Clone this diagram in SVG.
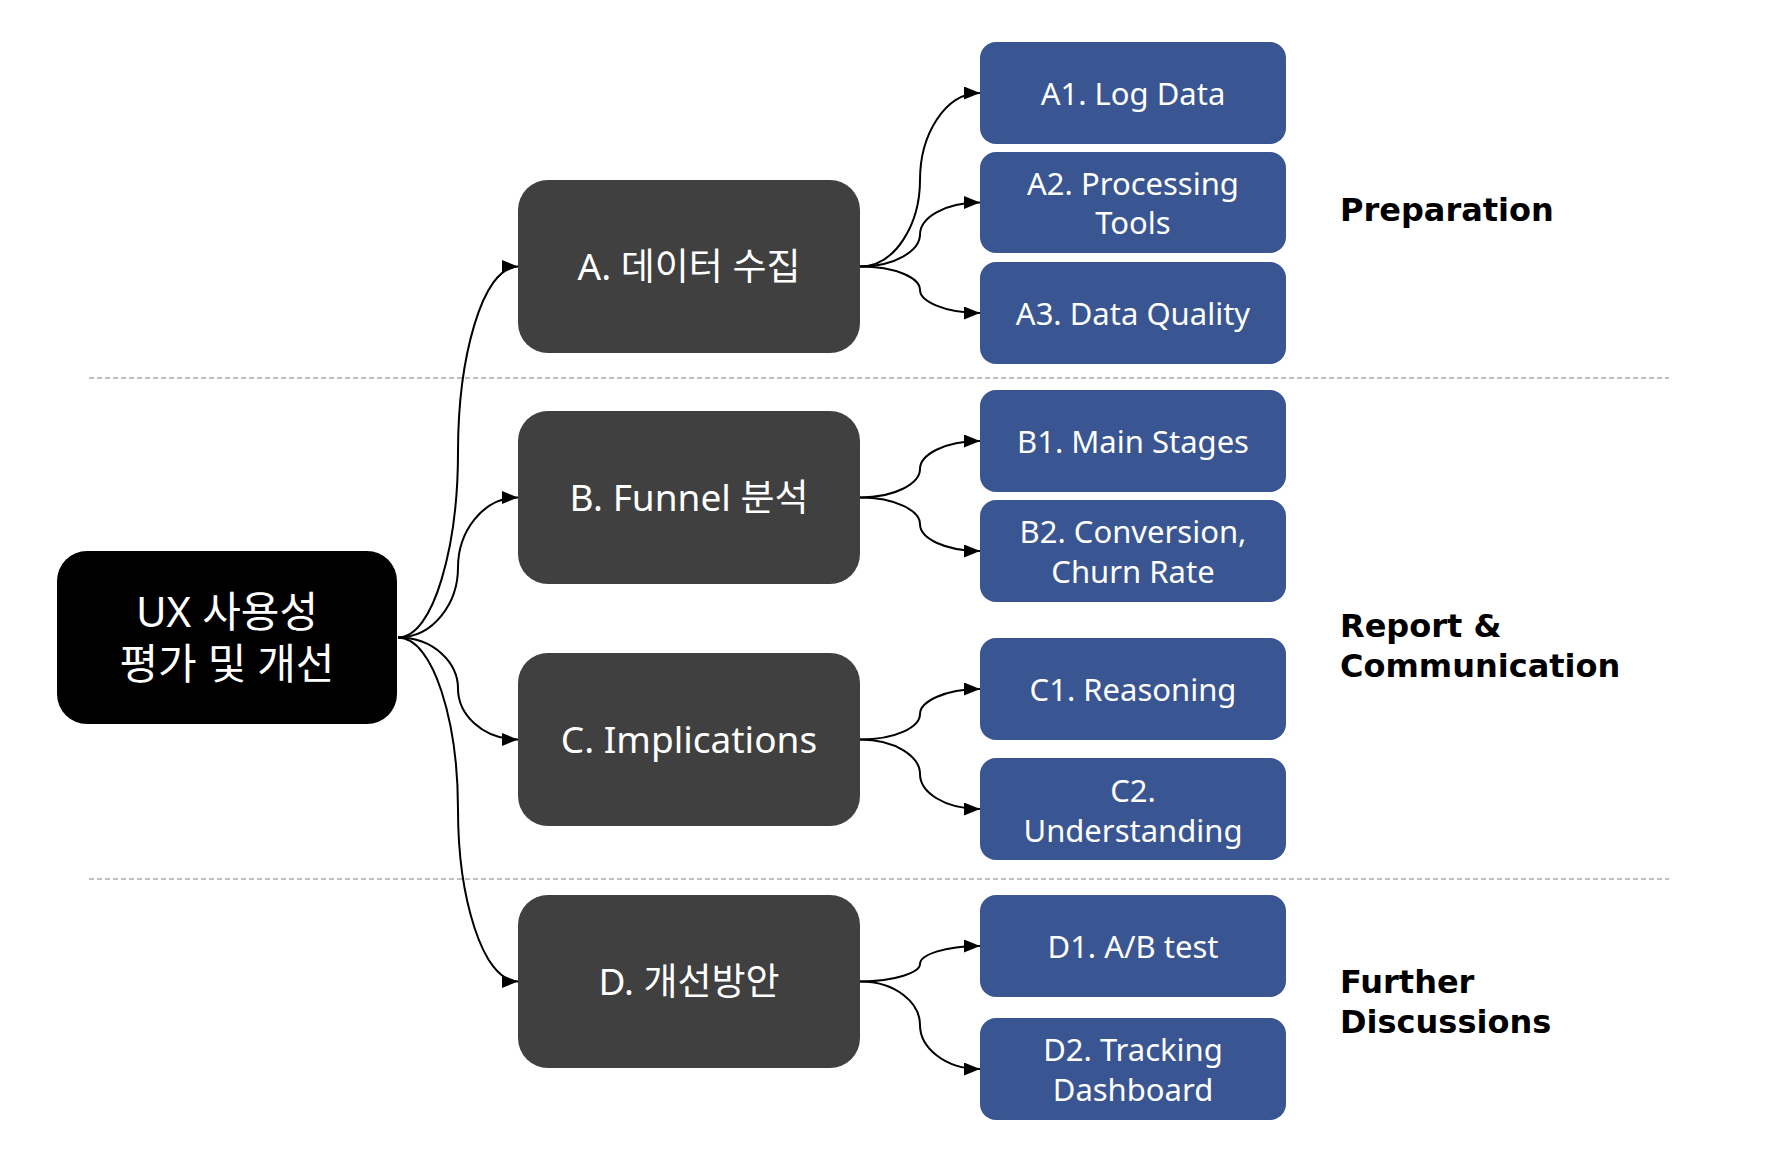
<svg xmlns="http://www.w3.org/2000/svg" width="1774" height="1166" viewBox="0 0 1774 1166">
  <defs>
    <marker id="arrow" markerUnits="userSpaceOnUse" markerWidth="16" markerHeight="13" refX="16" refY="6.5" orient="auto">
      <path d="M0,0 L16,6.5 L0,13 Z" fill="#000"/>
    </marker>
    <style>
      .root { fill: #000000; }
      .dark { fill: #404040; }
      .blue { fill: #3A5692; }
      .t { font-family: "Noto Sans", "Noto Sans CJK KR", sans-serif; fill: #ffffff; text-anchor: middle; }
      .troot { font-size: 42px; }
      .tdark { font-size: 37px; }
      .tblue { font-size: 31px; }
      .sec { font-family: "DejaVu Sans", "Liberation Sans", sans-serif; font-weight: bold; font-size: 32px; fill: #000; }
      .edge { fill: none; stroke: #000; stroke-width: 2; marker-end: url(#arrow); }
      .divider { stroke: #aaaaaa; stroke-width: 1.5; stroke-dasharray: 5 3; }
    </style>
  </defs>
  <rect x="0" y="0" width="1774" height="1166" fill="#ffffff"/>

  <g id="dividers">
    <line class="divider" x1="89" y1="378" x2="1669" y2="378"/>
    <line class="divider" x1="89" y1="879" x2="1669" y2="879"/>
  </g>

  <g id="connectors">
    <path class="edge" d="M398,637.5 C434,637.5 458,545 458,452 C458,359 482,266.5 518,266.5"/>
    <path class="edge" d="M398,637.5 C434,637.5 458,602.5 458,567.5 C458,532.5 482,497.5 518,497.5"/>
    <path class="edge" d="M398,637.5 C434,637.5 458,663 458,688.5 C458,714 482,739.5 518,739.5"/>
    <path class="edge" d="M398,637.5 C434,637.5 458,723.5 458,809.5 C458,895.5 482,981.5 518,981.5"/>

    <path class="edge" d="M860,266.5 C896,266.5 920,223 920,180 C920,136 944,93 980,93"/>
    <path class="edge" d="M860,266.5 C896,266.5 920,250 920,234.5 C920,218 944,202.5 980,202.5"/>
    <path class="edge" d="M860,266.5 C896,266.5 920,278 920,290 C920,301 944,313 980,313"/>

    <path class="edge" d="M860,497.5 C896,497.5 920,483 920,469 C920,455 944,441 980,441"/>
    <path class="edge" d="M860,497.5 C896,497.5 920,511 920,524 C920,538 944,551 980,551"/>

    <path class="edge" d="M860,739.5 C896,739.5 920,727 920,714 C920,702 944,689 980,689"/>
    <path class="edge" d="M860,739.5 C896,739.5 920,757 920,774 C920,792 944,809 980,809"/>

    <path class="edge" d="M860,981.5 C896,981.5 920,972 920,964 C920,955 944,946 980,946"/>
    <path class="edge" d="M860,981.5 C896,981.5 920,1003 920,1025 C920,1047 944,1069 980,1069"/>
  </g>

  <g id="node-root">
    <rect class="root" x="57" y="551" width="340" height="173" rx="30" ry="30"/>
    <text class="t troot" x="227" y="627">UX 사용성</text>
    <text class="t troot" x="227" y="679">평가 및 개선</text>
  </g>

  <g id="node-A">
    <rect class="dark" x="518" y="180" width="342" height="173" rx="30" ry="30"/>
    <text class="t tdark" x="689" y="280">A. 데이터 수집</text>
  </g>
  <g id="node-B">
    <rect class="dark" x="518" y="411" width="342" height="173" rx="30" ry="30"/>
    <text class="t tdark" x="689" y="511">B. Funnel 분석</text>
  </g>
  <g id="node-C">
    <rect class="dark" x="518" y="653" width="342" height="173" rx="30" ry="30"/>
    <text class="t tdark" x="689" y="753">C. Implications</text>
  </g>
  <g id="node-D">
    <rect class="dark" x="518" y="895" width="342" height="173" rx="30" ry="30"/>
    <text class="t tdark" x="689" y="995">D. 개선방안</text>
  </g>

  <g id="node-A1">
    <rect class="blue" x="980" y="42" width="306" height="102" rx="16" ry="16"/>
    <text class="t tblue" x="1133" y="105">A1. Log Data</text>
  </g>
  <g id="node-A2">
    <rect class="blue" x="980" y="152" width="306" height="101" rx="16" ry="16"/>
    <text class="t tblue" x="1133" y="195">A2. Processing</text>
    <text class="t tblue" x="1133" y="234">Tools</text>
  </g>
  <g id="node-A3">
    <rect class="blue" x="980" y="262" width="306" height="102" rx="16" ry="16"/>
    <text class="t tblue" x="1133" y="325">A3. Data Quality</text>
  </g>
  <g id="node-B1">
    <rect class="blue" x="980" y="390" width="306" height="102" rx="16" ry="16"/>
    <text class="t tblue" x="1133" y="453">B1. Main Stages</text>
  </g>
  <g id="node-B2">
    <rect class="blue" x="980" y="500" width="306" height="102" rx="16" ry="16"/>
    <text class="t tblue" x="1133" y="543">B2. Conversion,</text>
    <text class="t tblue" x="1133" y="583">Churn Rate</text>
  </g>
  <g id="node-C1">
    <rect class="blue" x="980" y="638" width="306" height="102" rx="16" ry="16"/>
    <text class="t tblue" x="1133" y="701">C1. Reasoning</text>
  </g>
  <g id="node-C2">
    <rect class="blue" x="980" y="758" width="306" height="102" rx="16" ry="16"/>
    <text class="t tblue" x="1133" y="802">C2.</text>
    <text class="t tblue" x="1133" y="842">Understanding</text>
  </g>
  <g id="node-D1">
    <rect class="blue" x="980" y="895" width="306" height="102" rx="16" ry="16"/>
    <text class="t tblue" x="1133" y="958">D1. A/B test</text>
  </g>
  <g id="node-D2">
    <rect class="blue" x="980" y="1018" width="306" height="102" rx="16" ry="16"/>
    <text class="t tblue" x="1133" y="1061">D2. Tracking</text>
    <text class="t tblue" x="1133" y="1101">Dashboard</text>
  </g>

  <g id="labels">
    <text class="sec" x="1340" y="221">Preparation</text>
    <text class="sec" x="1340" y="637">Report &amp;</text>
    <text class="sec" x="1340" y="677">Communication</text>
    <text class="sec" x="1340" y="993">Further</text>
    <text class="sec" x="1340" y="1033">Discussions</text>
  </g>
</svg>
